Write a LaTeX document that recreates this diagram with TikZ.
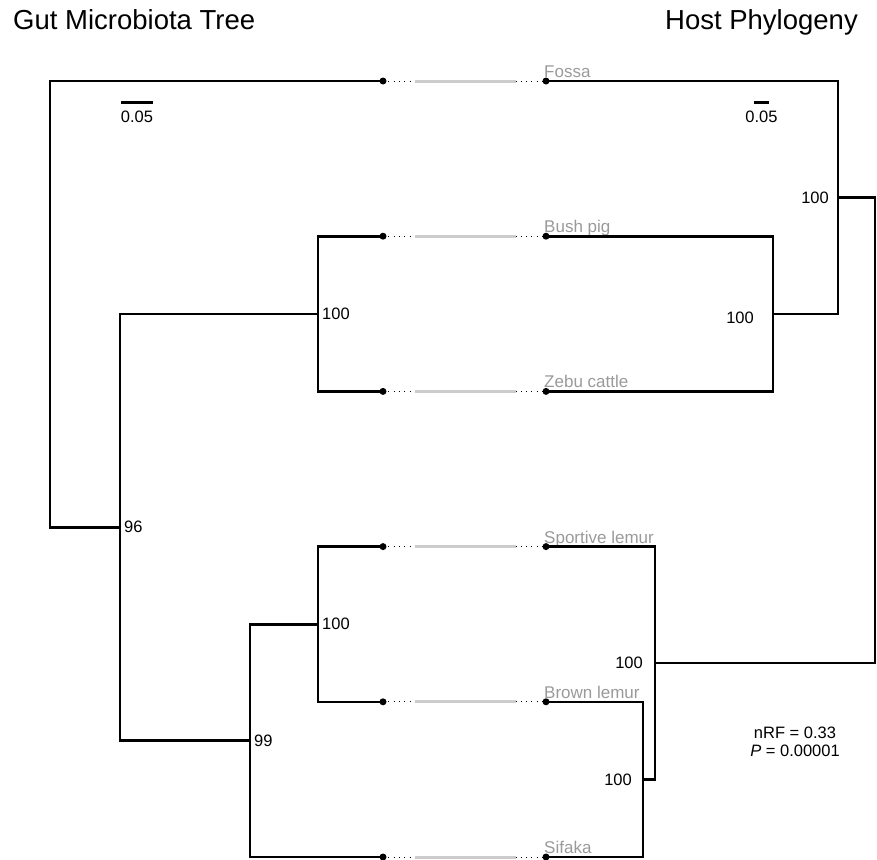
\documentclass[tikz,border=0pt]{standalone}
\usepackage{fontspec}
\setmainfont{Liberation Sans}
\usetikzlibrary{positioning}

\definecolor{leafgray}{HTML}{9A9A9A}
\definecolor{bargray}{HTML}{CCCCCC}

\tikzset{
  branch/.style={line width=2.6pt, line cap=rect},
  support/.style={inner sep=0pt, font=\fontsize{16.5}{18}\selectfont},
  leaf/.style={anchor=base west, inner sep=0pt, text=leafgray, font=\fontsize{17}{19}\selectfont},
  link/.style={line width=0.9pt, dash pattern=on 0.9pt off 4.4pt},
  title/.style={inner sep=0pt, font=\fontsize{27.5}{30}\selectfont},
}

\begin{document}
\begin{tikzpicture}[x=1pt, y=-1pt]
    \useasboundingbox (0,0) rectangle (877,859);

    \node[title, anchor=base west] (gut) at (13,30) {Gut Microbiota Tree};
    \node[title, anchor=base east] (host) at (858,30) {Host Phylogeny};

    % leaves and their links
    \foreach \n/\t/\y in {fossa/Fossa/81, bushpig/Bush pig/236.2, zebu/Zebu cattle/391.4,
                          sportive/Sportive lemur/546.6, brown/Brown lemur/701.8, sifaka/Sifaka/857} {
        \coordinate (\n-l) at (383,\y);
        \coordinate (\n-r) at (546,\y);
        \draw[link] (\n-l) -- (\n-r);
        \draw[bargray, line width=3pt] (415,\y) -- (516,\y);
        \node[leaf] (\n-lab) at (544,\y-3.5) {\t};
    }

    % gut microbiota tree
    \coordinate (groot) at (50,304);
    \coordinate (g96) at (120,527.2);
    \coordinate (g100a) at (318,313.8);
    \coordinate (g99) at (250,740.6);
    \coordinate (g100b) at (318,624.2);
    \draw[branch] (groot) |- (fossa-l);
    \draw[branch] (groot) |- (g96);
    \draw[branch] (g96) |- (g100a);
    \draw[branch] (g96) |- (g99);
    \draw[branch] (g100a) |- (bushpig-l);
    \draw[branch] (g100a) |- (zebu-l);
    \draw[branch] (g99) |- (g100b);
    \draw[branch] (g99) |- (sifaka-l);
    \draw[branch] (g100b) |- (sportive-l);
    \draw[branch] (g100b) |- (brown-l);

    \node[support, anchor=west, xshift=4pt] at (g96) {96};
    \node[support, anchor=west, xshift=4pt] at (g100a) {100};
    \node[support, anchor=west, xshift=4pt] at (g99) {99};
    \node[support, anchor=west, xshift=4pt] at (g100b) {100};

    % host phylogeny
    \coordinate (hroot) at (875,430.2);
    \coordinate (h100a) at (838,197.4);
    \coordinate (h100b) at (773,313.8);
    \coordinate (h100c) at (655,663);
    \coordinate (h100d) at (643,779.4);
    \draw[branch] (hroot) |- (h100a);
    \draw[branch] (hroot) |- (h100c);
    \draw[branch] (h100a) |- (fossa-r);
    \draw[branch] (h100a) |- (h100b);
    \draw[branch] (h100b) |- (bushpig-r);
    \draw[branch] (h100b) |- (zebu-r);
    \draw[branch] (h100c) |- (sportive-r);
    \draw[branch] (h100c) |- (h100d);
    \draw[branch] (h100d) |- (brown-r);
    \draw[branch] (h100d) |- (sifaka-r);

    \node[support, anchor=east, xshift=-9pt] at (h100a) {100};
    \node[support, anchor=east, xshift=-19pt, yshift=-4pt] at (h100b) {100};
    \node[support, anchor=east, xshift=-12pt] at (h100c) {100};
    \node[support, anchor=east, xshift=-11pt] at (h100d) {100};

    % dots on the leaf ends
    \foreach \n in {fossa, bushpig, zebu, sportive, brown, sifaka} {
        \fill (\n-l) circle (3.5pt);
        \fill (\n-r) circle (3.5pt);
    }

    % scale bars
    \draw[line width=3pt] (121,102) -- (153,102) node[support, midway, below=7pt] (gscale) {0.05};
    \draw[line width=3pt] (754,102) -- (769,102) node[support, midway, below=7pt] (hscale) {0.05};

    \node[support, align=center] (stats) at (795,742) {nRF = 0.33\\\textit{P} = 0.00001};
\end{tikzpicture}
\end{document}
